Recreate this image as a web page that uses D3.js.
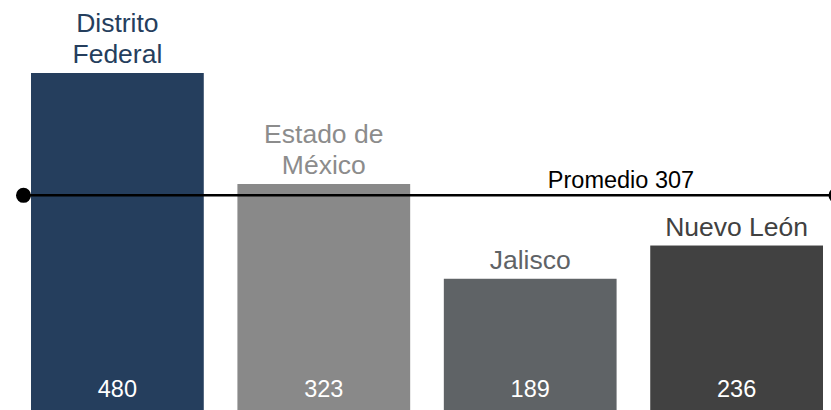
<!DOCTYPE html>
<html>
<head>
<meta charset="utf-8">
<script src="https://cdn.jsdelivr.net/npm/d3@7/dist/d3.min.js"></script>
<style>
  html, body { margin: 0; padding: 0; background: #fff; }
  svg { display: block; }
  text { font-family: "Liberation Sans", Arial, sans-serif; }
</style>
</head>
<body>
<svg id="chart" width="831" height="410"></svg>
<script>
// Values per state
const categories = ["Distrito Federal", "Estado de México", "Jalisco", "Nuevo León"];
const labelLines = [["Distrito", "Federal"], ["Estado de", "México"], ["Jalisco"], ["Nuevo León"]];
const values = [480, 323, 189, 236];
const barColors = ["#253e5d", "#898989", "#5f6366", "#414141"];
const labelColors = ["#253e5d", "#8c8c8c", "#5f6366", "#414141"];
const averageLabel = "Promedio";

const width = 831, height = 410;
const svg = d3.select("#chart");

const x = d3.scaleBand()
  .domain(categories)
  .range([31, 823])
  .paddingInner(0.163)
  .paddingOuter(0);

const y = d3.scaleLinear()
  .domain([0, 480])
  .range([412.4, 73]);

const data = categories.map((c, i) => ({
  cat: c, value: values[i], lines: labelLines[i],
  color: barColors[i], labelColor: labelColors[i]
}));

// Bars
svg.append("g").selectAll("rect")
  .data(data)
  .join("rect")
  .attr("x", d => x(d.cat))
  .attr("y", d => y(d.value))
  .attr("width", x.bandwidth())
  .attr("height", d => y(0) - y(d.value))
  .attr("fill", d => d.color);

// Values inside bars, near the bottom
svg.append("g").selectAll("text")
  .data(data)
  .join("text")
  .attr("x", d => x(d.cat) + x.bandwidth() / 2)
  .attr("y", 397)
  .attr("text-anchor", "middle")
  .attr("fill", "#fff")
  .style("font-size", "23.5px")
  .text(d => d.value);

// Category names above bars
const lineH = 31;
const catLabels = svg.append("g").selectAll("text")
  .data(data)
  .join("text")
  .attr("text-anchor", "middle")
  .attr("fill", d => d.labelColor)
  .style("font-size", "26.5px");
catLabels.each(function(d) {
  const t = d3.select(this);
  const n = d.lines.length;
  d.lines.forEach((ln, j) => {
    t.append("tspan")
      .attr("x", x(d.cat) + x.bandwidth() / 2)
      .attr("y", y(d.value) - 10 - (n - 1 - j) * lineH)
      .text(ln);
  });
});

// Average line
const avg = Math.round(d3.mean(values));
const yAvg = y(avg);
const lineX0 = 23.5, lineX1 = 836;
svg.append("line")
  .attr("x1", lineX0).attr("x2", lineX1)
  .attr("y1", yAvg).attr("y2", yAvg)
  .attr("stroke", "#000")
  .attr("stroke-width", 2.5);
svg.append("g").selectAll("circle")
  .data([lineX0, lineX1])
  .join("circle")
  .attr("cx", d => d)
  .attr("cy", yAvg)
  .attr("r", 7.5)
  .attr("fill", "#000");

svg.append("text")
  .attr("x", 621)
  .attr("y", yAvg - 7)
  .attr("text-anchor", "middle")
  .attr("fill", "#000")
  .style("font-size", "23.5px")
  .text(`${averageLabel} ${avg}`);
</script>
</body>
</html>
